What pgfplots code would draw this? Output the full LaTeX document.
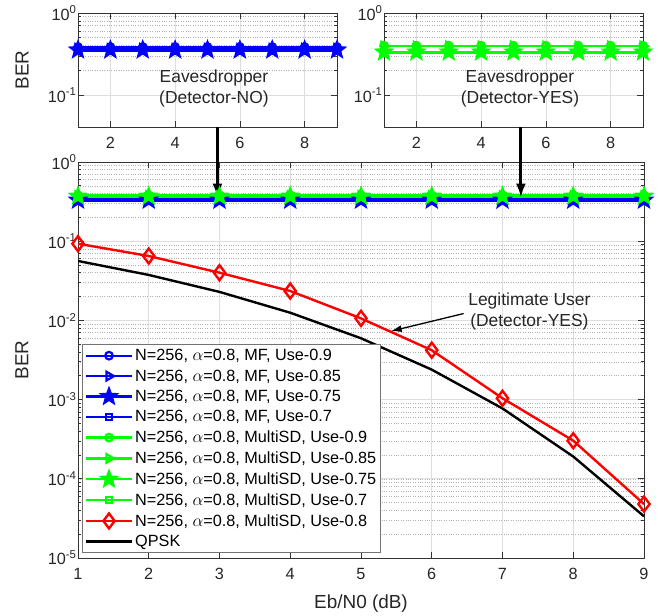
\documentclass[border=0pt]{standalone}
\usepackage{pgfplots}
\usepackage{pgfplotstable}
\pgfplotsset{compat=1.18}
\usepackage{fontspec}
\setmainfont{Liberation Sans}
\usetikzlibrary{arrows.meta}

\pgfdeclareplotmark{pentagram}{%
  \pgfpathmoveto{\pgfqpointpolar{90}{1.3\pgfplotmarksize}}%
  \pgfpathlineto{\pgfqpointpolar{126}{0.55\pgfplotmarksize}}%
  \pgfpathlineto{\pgfqpointpolar{162}{1.3\pgfplotmarksize}}%
  \pgfpathlineto{\pgfqpointpolar{198}{0.55\pgfplotmarksize}}%
  \pgfpathlineto{\pgfqpointpolar{234}{1.3\pgfplotmarksize}}%
  \pgfpathlineto{\pgfqpointpolar{270}{0.55\pgfplotmarksize}}%
  \pgfpathlineto{\pgfqpointpolar{306}{1.3\pgfplotmarksize}}%
  \pgfpathlineto{\pgfqpointpolar{342}{0.55\pgfplotmarksize}}%
  \pgfpathlineto{\pgfqpointpolar{18}{1.3\pgfplotmarksize}}%
  \pgfpathlineto{\pgfqpointpolar{54}{0.55\pgfplotmarksize}}%
  \pgfpathclose
  \pgfusepathqfillstroke
}

% main panel data
\pgfplotstableread{
x   b1    b2    b3    b4    g1    g2    g3    g4    red      qpsk
1   0.345 0.338 0.330 0.322 0.380 0.375 0.370 0.365 0.093    0.0563
2   0.345 0.338 0.330 0.322 0.380 0.375 0.370 0.365 0.065    0.0375
3   0.345 0.338 0.330 0.322 0.380 0.375 0.370 0.365 0.040    0.0229
4   0.345 0.338 0.330 0.322 0.380 0.375 0.370 0.365 0.0235   0.0125
5   0.345 0.338 0.330 0.322 0.380 0.375 0.370 0.365 0.0106   0.00595
6   0.345 0.338 0.330 0.322 0.380 0.375 0.370 0.365 0.0042   0.00239
7   0.345 0.338 0.330 0.322 0.380 0.375 0.370 0.365 0.00104  0.000773
8   0.345 0.338 0.330 0.322 0.380 0.375 0.370 0.365 0.000303 0.000191
9   0.345 0.338 0.330 0.322 0.380 0.375 0.370 0.365 0.000048 0.0000336
}\data
% inset panels data
\pgfplotstableread{
x   b1    b2    b3    b4    g1    g2    g3    g4
1   0.385 0.370 0.355 0.345 0.400 0.395 0.335 0.330
2   0.385 0.370 0.355 0.345 0.400 0.395 0.335 0.330
3   0.385 0.370 0.355 0.345 0.400 0.395 0.335 0.330
4   0.385 0.370 0.355 0.345 0.400 0.395 0.335 0.330
5   0.385 0.370 0.355 0.345 0.400 0.395 0.335 0.330
6   0.385 0.370 0.355 0.345 0.400 0.395 0.335 0.330
7   0.385 0.370 0.355 0.345 0.400 0.395 0.335 0.330
8   0.385 0.370 0.355 0.345 0.400 0.395 0.335 0.330
9   0.385 0.370 0.355 0.345 0.400 0.395 0.335 0.330
}\inset

\pgfplotsset{
  ebstyle/.style={
    scale only axis, xmin=1, xmax=9,
    tick align=inside, grid=both,
    major grid style={black!13, line width=0.7bp},
    minor grid style={black!30, dotted, line width=0.6bp},
    axis line style={black!80, line width=0.7bp},
    tick style={black!80, line width=0.7bp},
    major tick length=6bp, minor tick length=3bp,
    tick label style={font=\fontsize{16.3}{18}\selectfont, black!85},
    xticklabel style={yshift=-6.5bp},
    yticklabel style={xshift=2bp},
    label style={font=\fontsize{19}{21}\selectfont, black!85},
  },
  mfline/.style={blue, line width=2.2bp},
  msline/.style={green, line width=2.2bp},
}

\begin{document}
\begin{tikzpicture}
\useasboundingbox (0bp,0bp) rectangle (663bp,616bp);

% left inset
\begin{axis}[ymode=log, ebstyle,
  at={(78bp,489bp)}, anchor=south west, width=259bp, height=114bp,
  ymin=0.041, ymax=1, xtick={2,4,6,8}, xticklabels={2,4,6,8},
  ytick={0.1,1}, yticklabels={10\textsuperscript{-1},10\textsuperscript{0}},
  ylabel={BER}, ylabel style={at={(axis description cs:-0.216,0.5)}, anchor=center},
  clip=false]
  \addplot[mfline, mark=o, mark size=3.8bp] table[x=x,y=b1]{\inset};
  \addplot[mfline, mark=triangle, mark size=5bp, mark options={rotate=-90}] table[x=x,y=b2]{\inset};
  \addplot[mfline, mark=pentagram, mark size=6bp] table[x=x,y=b3]{\inset};
  \addplot[mfline, mark=square, mark size=3.2bp] table[x=x,y=b4]{\inset};
  \node[align=center, font=\fontsize{17.5}{21}\selectfont, black!85] at (axis cs:5.2,0.12) {Eavesdropper\\(Detector-NO)};
\end{axis}

% right inset
\begin{axis}[ymode=log, ebstyle,
  at={(384bp,489bp)}, anchor=south west, width=259bp, height=114bp,
  ymin=0.041, ymax=1, xtick={2,4,6,8}, xticklabels={2,4,6,8},
  ytick={0.1,1}, yticklabels={10\textsuperscript{-1},10\textsuperscript{0}},
  clip=false]
  \addplot[msline, mark=o, mark size=3.8bp] table[x=x,y=g1]{\inset};
  \addplot[msline, mark=triangle, mark size=5bp, mark options={rotate=-90}] table[x=x,y=g2]{\inset};
  \addplot[msline, mark=pentagram, mark size=6bp] table[x=x,y=g3]{\inset};
  \addplot[msline, mark=square, mark size=3.2bp] table[x=x,y=g4]{\inset};
  \node[align=center, font=\fontsize{17.5}{21}\selectfont, black!85] at (axis cs:5.2,0.12) {Eavesdropper\\(Detector-YES)};
\end{axis}

% main axis
\begin{axis}[ymode=log, ebstyle,
  at={(78bp,58bp)}, anchor=south west, width=566bp, height=396bp,
  ymin=1e-5, ymax=1, xtick={1,2,3,4,5,6,7,8,9}, xticklabels={1,2,3,4,5,6,7,8,9},
  ytick={1e-5,1e-4,1e-3,1e-2,1e-1,1},
  yticklabels={10\textsuperscript{-5},10\textsuperscript{-4},10\textsuperscript{-3},10\textsuperscript{-2},10\textsuperscript{-1},10\textsuperscript{0}},
  clip=false,
  xlabel={Eb/N0 (dB)}, ylabel={BER},
  xlabel style={at={(axis description cs:0.5,-0.114)}, anchor=center},
  ylabel style={at={(axis description cs:-0.099,0.5)}, anchor=center},
  legend style={at={(0.007,0.013)}, anchor=south west, draw=black!55, fill=white,
    line width=0.7bp,
    font=\fontsize{16.3}{18}\selectfont, row sep=3.6bp, inner sep=2.5bp,
    cells={anchor=west}},
  legend image code/.code={%
    \draw[mark repeat=2,mark phase=2] plot coordinates {(0bp,0bp) (23bp,0bp) (46bp,0bp)};}
  ]
  \addplot[mfline, mark=o, mark size=3.8bp] table[x=x,y=b1]{\data};
  \addlegendentry{N=256, $\alpha$=0.8, MF, Use-0.9}
  \addplot[mfline, mark=triangle, mark size=5bp, mark options={rotate=-90}] table[x=x,y=b2]{\data};
  \addlegendentry{N=256, $\alpha$=0.8, MF, Use-0.85}
  \addplot[mfline, mark=pentagram, mark size=6bp] table[x=x,y=b3]{\data};
  \addlegendentry{N=256, $\alpha$=0.8, MF, Use-0.75}
  \addplot[mfline, mark=square, mark size=3.2bp] table[x=x,y=b4]{\data};
  \addlegendentry{N=256, $\alpha$=0.8, MF, Use-0.7}
  \addplot[msline, mark=o, mark size=3.8bp] table[x=x,y=g1]{\data};
  \addlegendentry{N=256, $\alpha$=0.8, MultiSD, Use-0.9}
  \addplot[msline, mark=triangle, mark size=5bp, mark options={rotate=-90}] table[x=x,y=g2]{\data};
  \addlegendentry{N=256, $\alpha$=0.8, MultiSD, Use-0.85}
  \addplot[msline, mark=pentagram, mark size=6bp] table[x=x,y=g3]{\data};
  \addlegendentry{N=256, $\alpha$=0.8, MultiSD, Use-0.75}
  \addplot[msline, mark=square, mark size=3.2bp] table[x=x,y=g4]{\data};
  \addlegendentry{N=256, $\alpha$=0.8, MultiSD, Use-0.7}
  \addplot[red, line width=2.4bp, mark=diamond, mark size=7.5bp] table[x=x,y=red]{\data};
  \addlegendentry{N=256, $\alpha$=0.8, MultiSD, Use-0.8}
  \addplot[black, line width=2.4bp] table[x=x,y=qpsk]{\data};
  \addlegendentry{QPSK}
  % annotations
  \draw[black, line width=3bp, -{Latex[length=14bp,width=10bp]}] (axis cs:2.97,2.75) -- (axis cs:2.97,0.355);
  \draw[black, line width=3bp, -{Latex[length=14bp,width=10bp]}] (axis cs:7.26,2.75) -- (axis cs:7.26,0.355);
  \node[align=center, font=\fontsize{17.5}{21}\selectfont, black!85] at (axis cs:7.38,0.0128) {Legitimate User\\(Detector-YES)};
  \draw[black, line width=1.3bp, -{Latex[length=11bp,width=7bp]}] (axis cs:6.45,0.0122) -- (axis cs:5.42,0.0073);
\end{axis}
\end{tikzpicture}
\end{document}
